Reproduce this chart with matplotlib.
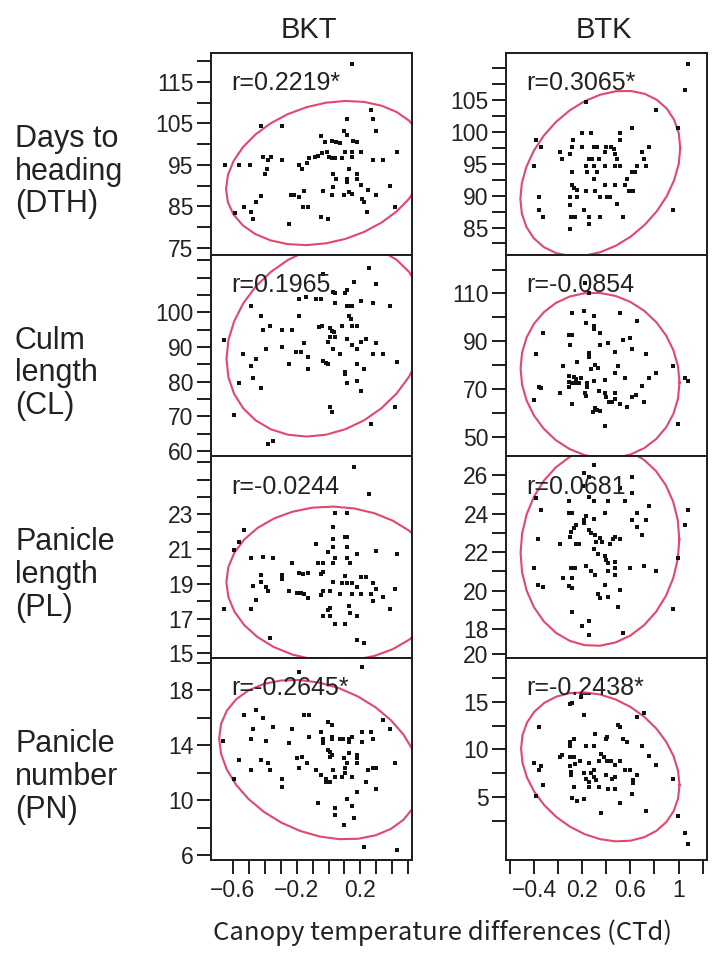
import numpy as np
import matplotlib.pyplot as plt
from matplotlib.transforms import blended_transform_factory

# (CTd, trait) pairs
bkt_dth = [
    (0.145, 119.4), (0.264, 108.3), (0.281, 106.0), (0.114, 106.0), (-0.425, 104.3), (-0.289, 104.3), (0.298, 103.2), (-0.049, 102.0), (0.099, 103.2), (0.114, 102.2),
    (-0.022, 100.4), (0.024, 100.7), (0.045, 100.6), (0.072, 100.3), (0.156, 100.7), (0.177, 100.4), (-0.648, 95.1), (-0.560, 95.1), (-0.491, 95.1), (-0.412, 96.8),
    (-0.381, 96.2), (-0.360, 96.8), (-0.289, 96.3), (-0.387, 94.1), (-0.395, 92.9), (-0.187, 95.1), (-0.168, 94.1), (-0.137, 95.4), (-0.120, 96.6), (-0.084, 97.0),
    (-0.066, 97.2), (-0.038, 97.8), (-0.011, 98.2), (0.005, 97.0), (0.020, 96.6), (0.041, 96.6), (0.083, 96.6), (0.104, 98.0), (0.145, 98.0), (0.150, 97.0),
    (0.204, 98.0), (0.277, 96.3), (0.339, 96.3), (0.431, 98.0), (0.129, 94.1), (0.031, 92.9), (0.045, 91.7), (0.114, 91.6), (0.114, 90.9), (0.177, 92.8),
    (0.177, 91.7), (0.206, 90.1), (0.385, 89.9), (0.026, 89.7), (-0.036, 88.8), (-0.425, 87.5), (-0.235, 87.7), (-0.214, 87.7), (-0.182, 87.3), (-0.153, 88.7),
    (0.024, 87.7), (0.099, 87.7), (0.129, 88.5), (0.150, 88.0), (0.250, 88.9), (0.298, 87.7), (0.208, 86.9), (0.223, 86.1), (-0.527, 84.8), (-0.454, 86.0),
    (-0.585, 83.5), (-0.487, 83.6), (-0.470, 82.0), (-0.157, 84.8), (-0.126, 84.8), (0.239, 83.6), (0.417, 84.8), (-0.245, 80.8), (-0.049, 82.5), (-0.005, 82.0)]

bkt_cl = [
    (0.254, 112.9), (0.298, 108.1), (0.160, 108.7), (-0.032, 111.0), (0.027, 105.9), (0.041, 105.5), (0.104, 105.5), (0.114, 106.4), (0.206, 103.2), (0.281, 102.6),
    (0.386, 101.9), (0.041, 102.6), (0.114, 101.8), (0.135, 101.8), (0.145, 101.8), (0.128, 98.9), (0.141, 98.0), (-0.185, 103.7), (-0.141, 104.5), (-0.080, 103.7),
    (-0.049, 103.7), (-0.485, 101.8), (-0.422, 98.9), (-0.185, 98.9), (-0.366, 96.1), (-0.408, 94.9), (-0.289, 94.9), (-0.226, 94.9), (-0.060, 95.7), (-0.043, 96.1),
    (0.010, 95.4), (0.020, 94.7), (0.035, 94.4), (0.041, 93.0), (0.010, 93.0), (0.087, 96.1), (0.145, 96.1), (0.177, 96.1), (-0.652, 92.0), (-0.393, 89.3),
    (-0.289, 89.9), (-0.205, 88.6), (-0.172, 88.6), (-0.153, 91.3), (-0.126, 87.2), (-0.005, 91.5), (0.027, 89.3), (0.073, 87.9), (0.114, 92.2), (0.145, 90.6),
    (0.177, 89.3), (0.206, 91.5), (0.235, 92.2), (0.298, 91.3), (0.281, 87.9), (0.340, 87.9), (-0.533, 87.9), (-0.456, 86.5), (-0.485, 84.5), (-0.470, 81.1),
    (-0.422, 78.2), (-0.560, 79.5), (-0.245, 85.1), (-0.126, 83.8), (-0.037, 86.0), (-0.018, 85.5), (-0.001, 85.1), (0.101, 82.9), (0.101, 82.1), (0.177, 85.1),
    (0.221, 83.8), (0.431, 85.7), (0.118, 79.5), (0.177, 80.3), (0.206, 77.4), (-0.592, 70.5), (0.010, 72.8), (0.024, 71.3), (0.267, 67.8), (0.417, 72.6),
    (-0.381, 62.2), (-0.345, 62.8)]

bkt_pl = [
    (0.160, 25.7), (0.254, 24.2), (0.041, 23.1), (0.118, 23.1), (0.027, 22.25), (-0.529, 22.1), (-0.560, 21.4), (-0.592, 20.95), (-0.080, 21.3), (0.027, 21.6),
    (0.104, 21.7), (0.118, 21.7), (0.027, 21.1), (0.118, 21.1), (-0.005, 20.85), (0.177, 20.7), (0.298, 20.9), (0.431, 20.7), (-0.485, 20.5), (-0.408, 20.55),
    (-0.349, 20.5), (-0.226, 20.2), (-0.068, 20.2), (-0.037, 20.2), (0.027, 20.2), (0.041, 20.5), (0.118, 20.5), (0.135, 20.2), (-0.185, 19.6), (-0.157, 19.55),
    (-0.126, 19.6), (-0.049, 19.55), (-0.032, 19.7), (-0.422, 19.5), (-0.289, 19.5), (-0.289, 19.3), (-0.470, 18.9), (-0.422, 19.1), (-0.393, 18.8), (-0.376, 18.6),
    (-0.454, 18.1), (-0.245, 18.6), (-0.199, 18.5), (-0.172, 18.5), (-0.153, 18.4), (-0.126, 18.2), (-0.049, 18.35), (-0.037, 18.6), (0.010, 18.6), (0.027, 19.1),
    (0.073, 18.4), (0.101, 19.45), (0.087, 19.05), (0.118, 19.05), (0.145, 19.05), (0.145, 18.4), (0.177, 18.8), (0.206, 19.4), (0.235, 19.4), (0.206, 18.4),
    (0.281, 19.05), (0.267, 18.4), (0.281, 18.0), (0.298, 18.7), (0.340, 18.25), (0.417, 18.7), (0.386, 17.55), (-0.652, 17.55), (-0.485, 17.55), (-0.037, 17.15),
    (-0.005, 17.5), (0.010, 17.15), (0.041, 16.7), (0.104, 16.7), (0.128, 17.7), (0.135, 17.3), (0.177, 17.15), (-0.366, 15.9), (0.177, 15.75), (0.221, 15.6),
    (0.010, 17.6)]

bkt_pn = [
    (-0.185, 19.33), (0.208, 19.7), (-0.527, 16.2), (-0.454, 16.55), (-0.412, 16.0), (-0.153, 16.2), (-0.122, 16.2), (-0.005, 15.7), (0.024, 15.45), (0.344, 15.8),
    (0.385, 15.15), (-0.470, 15.15), (-0.350, 15.3), (-0.226, 15.15), (0.266, 14.97), (0.208, 14.97), (-0.049, 14.97), (-0.487, 14.44), (-0.393, 14.29), (-0.658, 14.29),
    (-0.122, 14.6), (-0.036, 14.44), (-0.036, 14.12), (0.024, 14.6), (0.024, 14.44), (0.072, 14.44), (0.089, 14.44), (0.129, 14.44), (0.145, 14.6), (0.129, 14.24),
    (0.281, 14.44), (0.208, 14.24), (-0.245, 14.12), (-0.005, 13.64), (0.010, 13.52), (0.024, 13.27), (0.129, 13.4), (0.177, 13.27), (0.177, 13.03), (-0.560, 12.9),
    (-0.425, 12.9), (-0.381, 12.7), (-0.199, 13.03), (-0.168, 13.1), (-0.137, 12.7), (0.010, 13.15), (0.099, 13.03), (0.114, 12.7), (0.177, 12.7), (0.417, 12.7),
    (-0.485, 12.18), (-0.366, 12.18), (-0.182, 12.35), (-0.078, 12.18), (0.026, 12.18), (0.104, 12.3), (0.250, 12.18), (0.281, 12.3), (0.298, 12.35), (-0.049, 11.82),
    (-0.018, 11.5), (0.010, 11.33), (0.041, 11.64), (0.083, 11.64), (0.104, 11.99), (0.145, 11.7), (-0.289, 11.5), (-0.289, 10.97), (-0.590, 11.5), (0.235, 11.28),
    (0.298, 10.78), (0.177, 10.6), (0.114, 10.05), (-0.063, 9.76), (0.145, 9.59), (0.041, 9.39), (0.041, 8.91), (0.162, 8.67), (0.099, 8.18), (0.223, 6.6),
    (0.431, 6.4), (-0.018, 11.33)]

btk_dth = [
    (1.075, 110.7), (1.052, 106.6), (0.235, 104.7), (0.812, 103.5), (0.994, 100.6), (0.613, 100.6), (0.199, 99.9), (0.276, 99.9), (0.517, 99.9), (0.517, 98.8),
    (-0.180, 98.7), (-0.146, 97.7), (0.122, 98.7), (0.116, 97.6), (0.199, 97.7), (0.295, 97.7), (0.323, 97.7), (0.400, 97.7), (0.442, 97.7), (0.461, 97.4),
    (0.392, 96.9), (0.019, 96.8), (0.097, 96.6), (0.033, 95.7), (0.696, 96.8), (0.751, 97.6), (0.254, 95.7), (0.282, 95.7), (0.337, 95.7), (0.475, 96.6),
    (0.489, 95.7), (-0.202, 94.7), (0.116, 93.8), (0.235, 94.6), (0.240, 93.8), (0.295, 94.7), (0.323, 93.8), (0.392, 94.7), (0.475, 94.7), (0.517, 94.7),
    (0.572, 92.7), (0.613, 93.8), (0.641, 93.8), (0.655, 94.6), (0.715, 95.7), (0.732, 94.7), (0.295, 92.7), (0.116, 91.7), (0.135, 91.2), (0.157, 90.9),
    (0.235, 90.8), (0.309, 90.8), (0.392, 91.7), (0.406, 89.8), (0.434, 89.8), (0.475, 91.7), (0.558, 91.7), (0.586, 90.8), (0.621, 90.8), (-0.160, 89.8),
    (0.097, 89.8), (0.157, 89.8), (0.351, 89.8), (0.097, 88.6), (0.489, 88.7), (-0.160, 87.8), (0.218, 87.8), (-0.124, 86.6), (0.108, 86.7), (0.144, 86.7),
    (0.254, 86.6), (0.351, 86.6), (0.539, 86.6), (0.254, 85.6), (0.950, 87.8), (0.097, 84.7)]

btk_cl = [
    (0.221, 114.2), (0.254, 110.0), (0.116, 101.6), (0.213, 102.7), (0.296, 100.5), (0.516, 101.6), (0.655, 98.6), (0.234, 97.7), (0.296, 96.3), (0.296, 94.9),
    (-0.125, 93.5), (0.088, 92.6), (0.116, 92.6), (0.350, 93.5), (0.096, 88.4), (0.350, 88.4), (0.414, 89.4), (0.536, 90.5), (0.594, 91.4), (0.475, 85.6),
    (0.613, 86.6), (0.732, 84.5), (-0.180, 84.5), (0.254, 84.9), (0.254, 83.5), (0.157, 81.4), (0.038, 79.6), (0.309, 80.0), (0.331, 78.6), (0.276, 78.2),
    (0.494, 79.6), (0.953, 79.6), (0.093, 75.4), (0.129, 74.8), (0.149, 74.0), (0.193, 74.7), (0.093, 73.0), (0.116, 72.3), (0.138, 72.6), (0.177, 72.3),
    (0.240, 72.3), (0.296, 73.4), (0.392, 73.7), (0.475, 76.5), (0.552, 74.4), (0.751, 74.7), (0.812, 76.5), (1.055, 74.4), (1.075, 73.4), (-0.161, 70.9),
    (-0.142, 70.2), (0.093, 70.9), (0.696, 71.3), (0.240, 70.9), (0.013, 68.1), (0.226, 68.4), (0.232, 67.0), (0.337, 69.3), (0.392, 68.4), (0.400, 66.7),
    (0.420, 64.7), (0.448, 64.7), (0.475, 68.1), (0.470, 65.6), (0.613, 66.5), (0.649, 67.4), (0.710, 64.4), (-0.202, 65.4), (0.116, 63.5), (0.511, 63.5),
    (0.572, 62.3), (0.290, 60.5), (0.323, 61.2), (0.350, 60.9), (0.309, 62.1), (0.392, 54.5), (0.992, 55.3)]

btk_pl = [
    (0.296, 26.52), (0.218, 26.12), (0.260, 25.88), (0.207, 25.43), (0.254, 24.87), (0.296, 24.67), (0.414, 24.67), (0.511, 25.31), (0.613, 25.9), (0.613, 25.05),
    (0.552, 24.67), (0.093, 24.67), (-0.180, 24.79), (-0.141, 24.18), (0.093, 24.04), (0.116, 24.04), (0.392, 24.04), (0.751, 24.39), (0.655, 24.04), (1.075, 24.18),
    (1.055, 23.4), (0.732, 23.66), (0.613, 23.66), (0.655, 23.28), (0.696, 22.88), (0.234, 23.89), (0.213, 23.66), (0.218, 23.52), (0.296, 23.7), (0.151, 23.4),
    (0.129, 23.23), (0.110, 23.06), (0.254, 23.14), (0.276, 22.97), (0.096, 22.76), (-0.166, 22.66), (0.013, 22.4), (0.151, 22.4), (0.177, 22.4), (0.309, 22.88),
    (0.350, 22.71), (0.364, 22.54), (0.317, 22.54), (0.456, 22.66), (0.475, 22.76), (0.516, 22.66), (0.434, 22.4), (0.296, 22.14), (0.331, 21.9), (0.392, 21.79),
    (0.398, 21.58), (0.414, 21.45), (0.475, 21.5), (-0.202, 21.15), (0.110, 21.15), (0.138, 21.15), (0.234, 21.27), (0.276, 21.03), (0.309, 20.8), (0.414, 21.03),
    (0.475, 21.15), (0.475, 20.8), (0.594, 21.15), (0.710, 21.27), (0.812, 21.03), (0.992, 21.67), (0.038, 20.67), (0.116, 20.67), (0.093, 20.23), (0.116, 20.11),
    (-0.166, 20.29), (-0.125, 20.16), (0.392, 20.29), (0.511, 20.03), (0.331, 19.82), (0.350, 19.6), (0.414, 19.68), (0.494, 19.16), (0.950, 19.04), (0.116, 18.9),
    (0.199, 18.17), (0.260, 18.42), (0.254, 17.69), (0.536, 17.81)]

btk_pn = [
    (0.097, 14.72), (0.116, 14.9), (0.193, 15.45), (0.218, 13.6), (-0.160, 12.39), (0.655, 13.36), (0.710, 13.85), (0.497, 12.56), (0.516, 12.32), (0.309, 11.62),
    (0.406, 11.27), (0.395, 11.06), (0.097, 10.82), (0.130, 11.06), (0.097, 10.37), (0.234, 10.37), (0.296, 10.37), (0.539, 11.06), (0.572, 10.82), (0.696, 10.37),
    (0.014, 9.25), (0.033, 9.43), (0.097, 9.18), (0.130, 9.18), (0.179, 8.83), (0.356, 9.53), (0.384, 9.25), (0.406, 8.83), (0.337, 8.83), (0.442, 8.83),
    (0.475, 8.38), (0.511, 8.83), (0.751, 9.36), (0.812, 8.38), (-0.202, 8.62), (-0.146, 8.28), (-0.160, 7.86), (0.097, 8.28), (0.143, 8.48), (0.254, 8.55),
    (0.108, 7.68), (0.108, 7.33), (0.218, 7.51), (0.234, 6.88), (0.254, 6.64), (0.276, 7.51), (0.296, 7.86), (0.296, 7.16), (0.315, 6.81), (0.337, 6.11),
    (0.259, 6.11), (0.400, 7.33), (0.448, 6.88), (0.475, 7.16), (0.411, 5.87), (0.475, 5.87), (0.552, 7.86), (0.594, 7.86), (0.655, 7.33), (0.619, 6.81),
    (0.619, 6.53), (-0.127, 6.29), (0.135, 6.05), (0.116, 4.9), (0.157, 4.62), (0.218, 4.83), (0.613, 5.35), (0.511, 4.37), (0.950, 6.88), (-0.180, 5.14),
    (0.356, 3.33), (0.732, 3.57), (0.992, 3.08), (1.052, 1.31), (1.075, 0.12)]

# correlation labels and the 95% density ellipses (centre x, centre y, half width, half height)
r_values = [[0.2219, 0.3065], [0.1965, -0.0854], [-0.0244, 0.0681], [-0.2645, -0.2438]]
r_labels = [["r=0.2219*", "r=0.3065*"], ["r=0.1965", "r=-0.0854"],
            ["r=-0.0244", "r=0.0681"], ["r=-0.2645*", "r=-0.2438*"]]
ellipses = [[(-0.016, 93.05, 0.626, 17.35), (0.35, 93.5, 0.664, 13.0)],
            [(-0.015, 92.0, 0.624, 27.8), (0.348, 75.6, 0.66, 34.7)],
            [(0.03, 19.0, 0.67, 4.45), (0.347, 22.3, 0.659, 5.18)],
            [(-0.055, 12.94, 0.63, 5.8), (0.35, 8.18, 0.658, 7.8)]]

columns = ["BKT", "BTK"]
row_names = ["Days to\nheading\n(DTH)", "Culm\nlength\n(CL)", "Panicle\nlength\n(PL)", "Panicle\nnumber\n(PN)"]
points = [[bkt_dth, btk_dth], [bkt_cl, btk_cl], [bkt_pl, btk_pl], [bkt_pn, btk_pn]]

x_limits = [(-0.736, 0.523), (-0.433, 1.236)]
x_ticks = [[-0.6, -0.5, -0.4, -0.3, -0.2, -0.1, 0.0, 0.1, 0.2, 0.3, 0.4, 0.5],
           [-0.4, -0.2, 0.0, 0.2, 0.4, 0.6, 0.8, 1.0, 1.2]]
x_ticklabels = [["\u22120.6", "", "", "", "\u22120.2", "", "", "", "0.2", "", "", ""],
                ["", "\u22120.4", "", "0.2", "", "0.6", "", "1", ""]]

y_limits = [[(73.4, 122.0), (80.73, 112.47)],
            [(58.6, 116.6), (41.9, 126.2)],
            [(14.75, 26.36), (16.51, 26.99)],
            [(5.64, 20.35), (-1.56, 19.6)]]
y_ticks = [[[75, 80, 85, 90, 95, 100, 105, 110, 115, 120],
            [82.5, 85, 87.5, 90, 92.5, 95, 97.5, 100, 102.5, 105, 107.5, 110]],
           [[60, 65, 70, 75, 80, 85, 90, 95, 100, 105, 110, 115],
            [50, 60, 70, 80, 90, 100, 110, 120]],
           [[15, 16, 17, 18, 19, 20, 21, 22, 23, 24, 25, 26],
            [18, 19, 20, 21, 22, 23, 24, 25, 26]],
           [[6, 8, 10, 12, 14, 16, 18, 20],
            [2.5, 5, 7.5, 10, 12.5, 15, 17.5]]]
y_labelled = [[[75, 85, 95, 105, 115], [85, 90, 95, 100, 105]],
              [[60, 70, 80, 90, 100], [50, 70, 90, 110]],
              [[15, 17, 19, 21, 23], [18, 20, 22, 24, 26]],
              [[6, 10, 14, 18], [5, 10, 15]]]

W, H = 724, 967
col_left = [211, 506]
col_width = 201
row_edges = [52.7, 254.7, 456, 657.7, 860]

ink = "#1c1c1c"
text_color = "#222222"
ellipse_color = "#e0486c"
font = "Liberation Sans"
tick_size = 16.5

fig = plt.figure(figsize=(W / 100, H / 100), dpi=100)


def ellipse_outline(cx, cy, hx, hy, r, n=33):
    t = np.linspace(0, 2 * np.pi, n)
    ex = cx + hx * np.cos(t)
    ey = cy + hy * (r * np.cos(t) + np.sqrt(1 - r ** 2) * np.sin(t))
    return ex, ey


for i in range(4):
    for j in range(2):
        top, bottom = row_edges[i], row_edges[i + 1]
        ax = fig.add_axes([col_left[j] / W, 1 - bottom / H, col_width / W, (bottom - top) / H])

        data = np.array(points[i][j])
        ex, ey = ellipse_outline(*ellipses[i][j], r_values[i][j])
        ax.plot(ex, ey, color=ellipse_color, lw=1.5, zorder=2)
        ax.plot(data[:, 0], data[:, 1], "s", ms=3.3, color="#111111", mew=0, zorder=3)

        ax.set_xlim(*x_limits[j])
        ax.set_ylim(*y_limits[i][j])

        ax.set_yticks(y_ticks[i][j])
        ax.set_yticklabels([("%g" % v) if v in y_labelled[i][j] else "" for v in y_ticks[i][j]],
                           family=font, fontsize=tick_size, color=text_color)
        ax.set_xticks(x_ticks[j])
        ax.set_xticklabels(x_ticklabels[j], family=font, fontsize=tick_size, color=text_color)

        ax.tick_params(axis="both", direction="out", length=10, width=1.4, color=ink)
        ax.tick_params(axis="y", pad=2.5)
        ax.tick_params(axis="x", pad=3.5)
        if i < 3:
            ax.tick_params(axis="x", bottom=False, labelbottom=False)

        for s in ax.spines.values():
            s.set_linewidth(1.4)
            s.set_color(ink)

        ax.text(0.1, 1 - 37.5 / (bottom - top), r_labels[i][j], transform=ax.transAxes,
                family=font, fontsize=18, color=text_color, va="baseline", ha="left", zorder=4)

        # the "20" tick of the last BTK panel sits just above its frame
        if i == 3 and j == 1:
            tr = blended_transform_factory(ax.transAxes, ax.transData)
            ax.plot([-13.9 / col_width, 0], [20, 20], transform=tr, color=ink, lw=1.4,
                    clip_on=False, solid_capstyle="butt")
            ax.text(-17.4 / col_width, 20, "20", transform=tr, ha="right", va="center_baseline",
                    family=font, fontsize=tick_size, color=text_color, clip_on=False)

for j, name in enumerate(columns):
    fig.text((col_left[j] + col_width / 2 - 3) / W, 1 - 38 / H, name, ha="center", va="baseline",
             family=font, fontsize=21, color=text_color)

for i, name in enumerate(row_names):
    yc = (row_edges[i] + row_edges[i + 1]) / 2 + 18
    fig.text(15 / W, 1 - yc / H, name, ha="left", va="center", family=font,
             fontsize=22, color=text_color, linespacing=1.12)

fig.text(442 / W, 1 - 940 / H, "Canopy temperature differences (CTd)", ha="center",
         va="baseline", family="Noto Sans CJK JP", fontsize=18.5, color=text_color)

fig.savefig("out.png", dpi=100)
